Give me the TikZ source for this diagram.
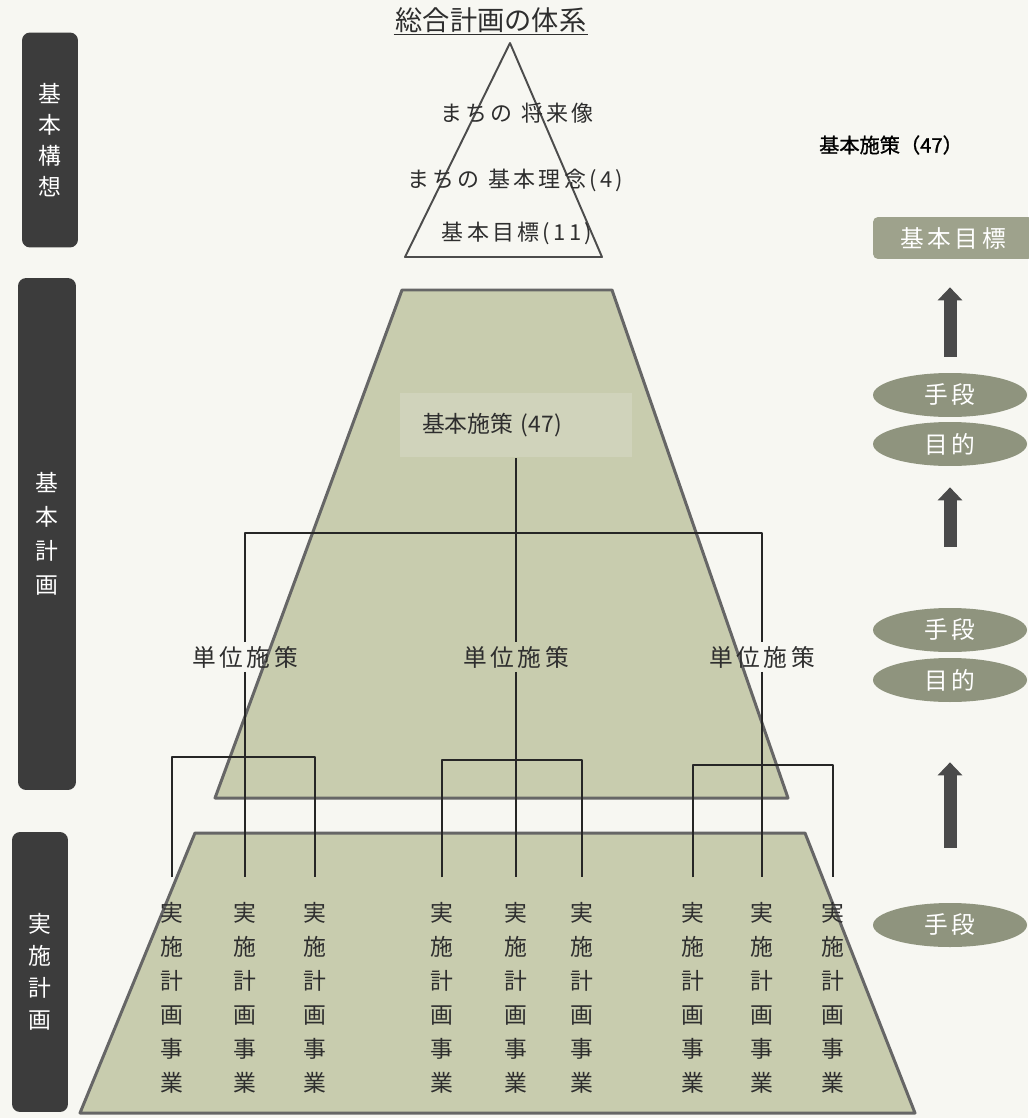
\documentclass[tikz,border=0pt]{standalone}
\usepackage{fontspec}
\setmainfont{Noto Sans CJK JP}
\newfontfamily\jpsp[LetterSpace=15]{Noto Sans CJK JP}
\newfontfamily\jpheavy[FakeBold=1.2]{Noto Sans CJK JP}
\usetikzlibrary{arrows.meta,shapes.geometric}
\definecolor{paper}{HTML}{F7F7F2}
\definecolor{barcol}{HTML}{3C3C3C}
\definecolor{trapfill}{HTML}{C8CCAE}
\definecolor{boxfill}{HTML}{D0D3BB}
\definecolor{ovalfill}{HTML}{8F947E}
\definecolor{goalfill}{HTML}{9EA28C}
\definecolor{edgecol}{HTML}{666666}
\definecolor{inkcol}{HTML}{2E2E2E}
\definecolor{arrowcol}{HTML}{4A4A4A}
\begin{document}
\begin{tikzpicture}[x=0.02cm, y=-0.02cm, line join=round, text=inkcol,
  sidebar/.style={fill=barcol, rounded corners=0.16cm, text=white, align=center, inner sep=0pt},
  unit/.style={font={\jpsp\fontsize{13.5}{15}\selectfont}, inner sep=2pt},
  jisshi/.style={align=center, inner xsep=1pt, inner ysep=0.5cm, font=\fontsize{13}{19.3}\selectfont},
  oval/.style={ellipse, fill=ovalfill, text=white, minimum width=3.08cm, minimum height=0.88cm, inner sep=0pt, font={\jpsp\fontsize{13.5}{15}\selectfont}},
  bigarrow/.style={arrowcol, line width=0.26cm, -{Triangle[width=0.48cm, length=0.26cm]}},
  conn/.style={black!85, line width=0.6pt}]
\fill[paper] (0,0) rectangle (1028,1118);
\useasboundingbox (0,0) rectangle (1028,1118);

% pyramid layers
\draw[edgecol, line width=1.7pt, fill=trapfill] (402,290) -- (612,290) -- (788,798) -- (215,798) -- cycle;
\draw[edgecol, line width=1.7pt, fill=trapfill] (195,833) -- (805,833) -- (915,1113) -- (80,1113) -- cycle;
\draw[black!70, line width=1.1pt] (510,43) -- (602,257) -- (405,257) -- cycle;

% title
\node[font=\fontsize{15.5}{18}\selectfont, inner sep=1pt] (title) at (491,20) {総合計画の体系};
\draw[inkcol, line width=0.7pt] (title.south west) -- (title.south east);

% left bars
\node[sidebar, minimum width=1.12cm, minimum height=4.3cm, font=\fontsize{13}{17.6}\selectfont] (kousou) at (50,140) {基\\本\\構\\想};
\node[sidebar, minimum width=1.16cm, minimum height=10.24cm, font=\fontsize{13}{19.3}\selectfont] (keikaku) at (47,534) {基\\本\\計\\画};
\node[sidebar, minimum width=1.12cm, minimum height=5.6cm, font=\fontsize{13}{18.2}\selectfont] (jisshibar) at (40,972) {実\\施\\計\\画};

% vision triangle
\node[font={\jpsp\fontsize{12.5}{14}\selectfont}] (shorai) at (517,113) {まちの\hspace{0.4em}将来像};
\node[font={\jpsp\fontsize{12.5}{14}\selectfont}] (rinen) at (515,180) {まちの\hspace{0.4em}基本理念(4)};
\node[font={\jpsp\fontsize{12.5}{14}\selectfont}] (mokuhyo) at (517,233) {基本目標(11)};

% basic plan
\node[fill=boxfill, minimum height=1.3cm, text width=3.76cm, inner xsep=0.44cm, align=left, font=\fontsize{13}{15}\selectfont] (pol) at (516,425) {基本施策 (47)};
\node[unit] (u1) at (245,657) {単位施策};
\node[unit] (u2) at (516,657) {単位施策};
\node[unit] (u3) at (762,657) {単位施策};
\coordinate (hb) at (516,533);
\draw[conn] (pol.south) -- (u2.north);
\draw[conn] (u1.north) |- (hb) -| (u3.north);

% projects
\foreach \n/\cx in {11/172,12/245,13/315,21/442,22/516,23/582,31/693,32/762,33/833}
  \node[jisshi] (j\n) at (\cx,998) {実\\施\\計\\画\\事\\業};
\coordinate (b1) at (245,757);
\coordinate (b2) at (516,760);
\coordinate (b3) at (762,765);
\foreach \g in {1,2,3} {
  \draw[conn] (u\g.south) -- (j\g2.north);
  \draw[conn] (j\g1.north) |- (b\g) -| (j\g3.north);
}

% right column
\node[font={\jpheavy\fontsize{11.5}{13}\selectfont}, text=black] (note) at (891,145) {基本施策（47）};
\node[fill=goalfill, rounded corners=0.1cm, text=white, minimum width=3.2cm, minimum height=0.84cm, font={\jpsp\fontsize{13.5}{15}\selectfont}] (goal) at (953,238) {基本目標};
\node[oval] (m1) at (950,395) {手段};
\node[oval] (m2) at (950,444) {目的};
\node[oval] (m3) at (950,630) {手段};
\node[oval] (m4) at (950,680) {目的};
\node[oval] (m5) at (950,925) {手段};
\draw[bigarrow, shorten <=0.32cm, shorten >=0.56cm] (m1.north) -- (goal.south -| m1.north);
\draw[bigarrow, shorten <=1.22cm, shorten >=0.42cm] (m3.north) -- (m2.south);
\draw[bigarrow, shorten <=1.1cm, shorten >=1.2cm] (m5.north) -- (m4.south);
\end{tikzpicture}
\end{document}
